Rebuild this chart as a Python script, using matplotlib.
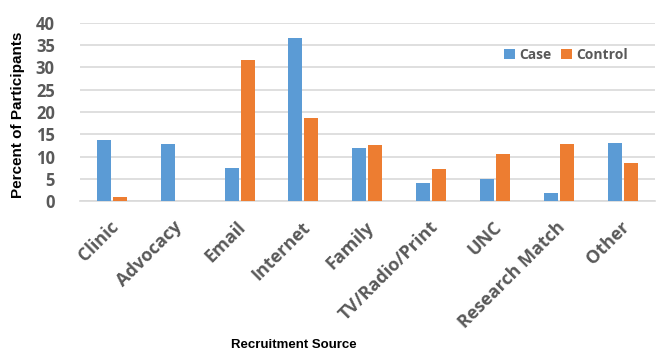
import matplotlib
matplotlib.use("Agg")
import matplotlib.pyplot as plt
import numpy as np

# Recruitment source breakdown, percent of participants
sources = ['Clinic', 'Advocacy', 'Email', 'Internet', 'Family',
           'TV/Radio/Print', 'UNC', 'Research Match', 'Other']
case_pct = [13.7, 12.8, 7.4, 36.5, 11.9, 4.2, 4.9, 1.8, 13.0]
control_pct = [1.0, 0.0, 31.6, 18.6, 12.6, 7.2, 10.6, 12.8, 8.6]
y_ticks = [0, 5, 10, 15, 20, 25, 30, 35, 40]

BLUE = '#5B9BD5'
ORANGE = '#ED7D31'
TICK_GRAY = '#595959'
TITLE_FONT = ['Liberation Sans', 'DejaVu Sans']


def main():
    fig = plt.figure(figsize=(6.6, 3.52), dpi=100)
    ax = fig.add_axes([0.121, 0.428, 0.871, 0.5075])

    x = np.arange(len(sources))
    bw = 0.22
    ax.bar(x - 0.125, case_pct, bw, color=BLUE, label='Case', zorder=3)
    ax.bar(x + 0.125, control_pct, bw, color=ORANGE, label='Control', zorder=3)

    ax.set_xlim(-0.5, len(sources) - 0.5)
    ax.set_ylim(0, 40)
    ax.set_yticks(y_ticks)
    ax.yaxis.grid(True, color='#D9D9D9', linewidth=1.2, zorder=0)
    for s in ['top', 'right', 'left']:
        ax.spines[s].set_visible(False)
    ax.spines['bottom'].set_color('#D9D9D9')
    ax.spines['bottom'].set_linewidth(1.2)
    ax.tick_params(length=0)

    ax.set_xticks(x - 0.04)
    ax.set_xticklabels(sources, rotation=45, ha='right', rotation_mode='anchor',
                       fontsize=13, fontweight='bold', color=TICK_GRAY,
                       family='Open Sans')
    for lab in ax.get_yticklabels():
        lab.set_fontsize(12)
        lab.set_fontweight('bold')
        lab.set_color(TICK_GRAY)
        lab.set_family('Open Sans')
    ax.tick_params(axis='x', pad=12)
    ax.tick_params(axis='y', pad=18)

    ax.set_ylabel('Percent of Participants', fontsize=11, fontweight='bold',
                  family=TITLE_FONT)
    ax.yaxis.set_label_coords(-0.095, 0.483)
    fig.text(0.445, 0.02, 'Recruitment Source', ha='center', va='center',
             fontsize=9.5, fontweight='bold', family=TITLE_FONT)

    ax.legend(loc='center left', bbox_to_anchor=(0.728, 0.82), ncol=2, frameon=False,
              prop={'family': 'Open Sans', 'weight': 'bold', 'size': 10},
              labelcolor=TICK_GRAY, handlelength=0.8, handleheight=0.8,
              handletextpad=0.3, columnspacing=0.7, borderaxespad=0)

    fig.savefig('out.png', dpi=100)


if __name__ == '__main__':
    main()
